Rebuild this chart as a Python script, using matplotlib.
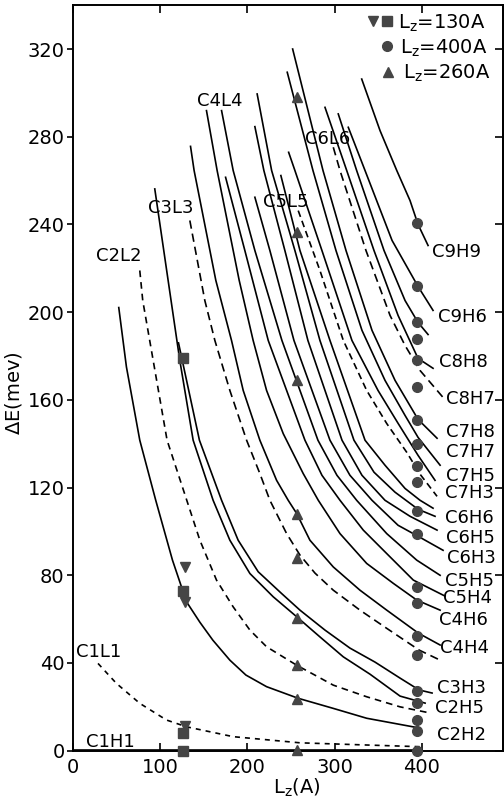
import matplotlib.pyplot as plt

# curves, E (meV) vs Lz (A)
c1l1_x = [28.7, 49.8, 76.6, 107.2, 130.2, 183.7, 260.3, 336.8, 400.0]
c1l1_y = [39.8, 30.7, 21.6, 14.0, 10.9, 6.4, 3.6, 2.6, 1.8]
c1h1_x = [0, 400]
c1h1_y = [0.3, 0.3]

c2h2_x = [52.5, 61.3, 76.6, 94.9, 114.1, 130.2, 145.5, 160.4, 179.9, 198.3, 222.0, 258.3, 298.5, 336.8, 398.0]
c2h2_y = [202.1, 175.0, 141.6, 114.2, 86.9, 67.9, 58.6, 50.4, 41.3, 34.5, 29.2, 23.9, 19.3, 14.8, 10.3]
c2l2_x = [76.6, 80.0, 107.9, 145.5, 164.6, 183.7, 202.9, 222.0, 256.5, 298.5, 336.8, 375.1, 409.5]
c2l2_y = [219.0, 205.3, 141.6, 96.0, 77.8, 65.6, 55.0, 47.4, 39.0, 29.9, 24.6, 20.0, 17.2]
c3l3_x = [93.8, 109.1, 122.5, 137.8, 160.7, 179.9, 202.9, 229.6, 256.5, 283.2, 310.0, 340.6, 375.1, 403.8]
c3l3_y = [256.2, 214.5, 178.0, 141.6, 114.2, 96.0, 80.8, 70.2, 61.1, 51.9, 42.8, 34.9, 24.9, 21.7]
c3h3_x = [121.0, 145.0, 170.4, 189.4, 212.4, 239.2, 260.3, 289.0, 317.6, 346.4, 375.1, 396.9, 411.8]
c3h3_y = [186.0, 141.6, 114.2, 96.0, 81.6, 71.7, 64.1, 55.0, 46.8, 40.4, 33.1, 27.7, 26.3]
c3l3d_x = [134.0, 151.2, 162.7, 179.9, 199.1, 214.3, 225.8, 245.0, 260.3, 277.5, 298.5, 329.1, 359.8, 396.9, 421.0]
c3l3d_y = [241.8, 205.3, 187.1, 164.3, 141.6, 126.4, 114.2, 99.0, 89.2, 81.0, 73.2, 64.1, 55.8, 45.9, 41.3]
c4h4_x = [134.8, 138.9, 163.8, 181.8, 195.2, 214.3, 233.5, 246.8, 256.5, 271.7, 298.5, 329.1, 359.8, 396.1, 421.0]
c4h4_y = [275.6, 264.6, 214.5, 187.1, 164.3, 141.6, 123.3, 114.2, 108.2, 96.0, 83.8, 73.2, 64.1, 53.6, 48.2]
c4h6_x = [153.1, 165.3, 190.6, 206.6, 222.0, 241.1, 264.0, 281.3, 306.2, 336.8, 367.4, 394.2, 421.0]
c4h6_y = [291.9, 264.6, 214.5, 187.1, 164.3, 144.6, 126.4, 114.2, 99.0, 85.4, 76.3, 68.7, 64.1]
c5h4_x = [175.0, 197.1, 223.9, 266.0, 285.5, 306.2, 332.9, 359.8, 390.3, 426.7]
c5h4_y = [261.5, 228.1, 187.1, 141.6, 125.6, 114.2, 100.6, 89.9, 77.8, 70.5]
c5h5_x = [170.4, 183.7, 208.6, 239.6, 280.9, 302.7, 325.3, 359.8, 394.2, 421.0]
c5h5_y = [291.9, 264.6, 228.1, 187.1, 141.6, 125.6, 114.2, 99.0, 86.9, 80.0]
c6h3_x = [208.6, 225.8, 253.4, 294.7, 317.6, 342.9, 372.8, 395.7, 424.4]
c6h3_y = [252.4, 228.1, 187.1, 141.6, 125.6, 114.2, 102.8, 97.8, 91.4]
c6h5_x = [208.6, 218.9, 243.0, 269.4, 308.5, 331.4, 357.8, 386.5, 417.5]
c6h5_y = [284.6, 264.6, 228.1, 187.1, 141.6, 125.6, 114.2, 106.9, 100.6]
c6h6_x = [211.2, 227.8, 254.5, 283.2, 322.2, 345.2, 369.3, 395.7, 415.2]
c6h6_y = [299.5, 264.6, 228.1, 187.1, 141.6, 127.0, 117.9, 110.1, 106.9]
c6x_x = [238.4, 260.3, 294.7, 334.9, 357.8, 380.8, 398.0, 412.9]
c6x_y = [262.3, 228.1, 187.1, 141.6, 130.2, 119.6, 114.2, 110.6]
c7h3_x = [258.3, 283.2, 310.0, 336.8, 359.8, 382.7, 398.0, 417.5]
c7h3_y = [246.3, 219.0, 187.1, 164.3, 149.2, 136.1, 126.1, 116.0]
c7h5_x = [247.3, 254.5, 285.5, 319.9, 349.8, 372.8, 395.7, 415.2]
c7h5_y = [272.9, 264.6, 228.1, 187.1, 164.3, 149.3, 134.7, 123.3]
c7h7_x = [245.7, 275.2, 301.6, 331.4, 357.8, 380.8, 395.7, 421.0]
c7h7_y = [309.4, 264.6, 228.1, 191.7, 168.9, 152.9, 142.9, 130.2]
c7h8_x = [251.9, 286.7, 313.1, 342.9, 369.3, 395.7, 417.5]
c7h8_y = [320.0, 264.6, 228.1, 191.7, 168.9, 151.1, 142.5]
c8h7_x = [298.5, 306.2, 336.0, 363.6, 380.8, 398.0, 424.4]
c8h7_y = [275.2, 264.6, 228.1, 198.5, 184.8, 173.4, 161.1]
c8h8_x = [289.0, 313.9, 345.2, 372.8, 395.7, 412.9]
c8h8_y = [293.4, 264.6, 228.1, 198.5, 178.9, 174.4]
c9x_x = [304.2, 325.3, 356.7, 380.8, 395.7, 407.2]
c9x_y = [290.4, 264.6, 228.1, 205.3, 195.3, 189.8]
c9h6_x = [315.7, 334.9, 365.9, 395.7, 412.9]
c9h6_y = [284.3, 264.6, 232.7, 211.7, 200.8]
c9h9_x = [331.1, 352.1, 371.3, 386.5, 395.7, 407.2]
c9h9_y = [306.3, 282.8, 264.6, 250.9, 240.0, 230.4]

# measured points
circ_y = [240.6, 211.9, 195.6, 187.6, 178, 165.9, 151, 139.7, 129.7, 122.5, 109.1,
          98.6, 74.6, 67.3, 52.1, 43.8, 27.4, 21.6, 14, 9.1, 0]
tri_y = [298.3, 236.5, 169.2, 108, 87.7, 60.6, 39, 23.6, 0.3]
sq_y = [179, 73, 8, 0]
itri_y = [83.7, 67.7, 11.2]

# curve labels (text, x, y)
right_labels = [("C9H9", 411.4, 227.3), ("C9H6", 419.0, 197.7), ("C8H8", 420.2, 177.2),
                ("C8H7", 427.9, 160.6), ("C7H8", 427.9, 145.3), ("C7H7", 427.9, 136.2),
                ("C7H5", 427.9, 125.4), ("C7H3", 426.7, 117.4), ("C6H6", 426.7, 105.9),
                ("C6H5", 427.9, 96.8), ("C6H3", 428.7, 87.7), ("C5H5", 426.7, 77.6),
                ("C5H4", 424.8, 69.6), ("C4H6", 420.2, 59.5), ("C4H4", 421.0, 46.7),
                ("C3H3", 417.2, 28.4), ("C2H5", 415.2, 19.3), ("C2H2", 417.2, 7.2)]
left_labels = [("C4L4", 141.7, 296.5), ("C6L6", 266.0, 279.0), ("C3L3", 86.1, 247.6),
               ("C5L5", 218.1, 250.1), ("C2L2", 26.9, 225.4), ("C1L1", 3.9, 45.1),
               ("C1H1", 15.4, 4.1)]

solid = '-'
dash = (0, (5, 3))
curves = [
    (c1l1_x, c1l1_y, (0, (3, 3))), (c1h1_x, c1h1_y, solid),
    (c2h2_x, c2h2_y, solid), (c2l2_x, c2l2_y, (0, (4, 3))),
    (c3l3_x, c3l3_y, solid), (c3h3_x, c3h3_y, solid), (c3l3d_x, c3l3d_y, dash),
    (c4h4_x, c4h4_y, solid), (c4h6_x, c4h6_y, solid),
    (c5h4_x, c5h4_y, solid), (c5h5_x, c5h5_y, solid),
    (c6h3_x, c6h3_y, solid), (c6h5_x, c6h5_y, solid), (c6h6_x, c6h6_y, solid),
    (c6x_x, c6x_y, solid), (c7h3_x, c7h3_y, (0, (4, 2.5))),
    (c7h5_x, c7h5_y, solid), (c7h7_x, c7h7_y, solid), (c7h8_x, c7h8_y, solid),
    (c8h7_x, c8h7_y, dash), (c8h8_x, c8h8_y, solid), (c9x_x, c9x_y, solid),
    (c9h6_x, c9h6_y, solid), (c9h9_x, c9h9_y, solid),
]

fig = plt.figure(figsize=(5.04, 8.06), dpi=100)
ax = fig.add_axes([0.1448, 0.0686, 0.853, 0.925])

for x, y, ls in curves:
    ax.plot(x, y, color='black', lw=1.2, ls=ls)

mc = '#454545'
ax.plot([395] * len(circ_y), circ_y, 'o', color=mc, ms=7, clip_on=False, zorder=5)
ax.plot([257] * len(tri_y), tri_y, '^', color=mc, ms=7.5, clip_on=False, zorder=5)
ax.plot([126] * len(sq_y), sq_y, 's', color=mc, ms=6.5, clip_on=False, zorder=5)
ax.plot([129] * len(itri_y), itri_y, 'v', color=mc, ms=7.5, clip_on=False, zorder=5)

fs = 13
for t, x, y in right_labels + left_labels:
    ax.text(x, y, t, fontsize=fs, ha='left', va='center', clip_on=False)

# legend drawn by hand as in the original
ax.plot([343.8], [332.9], 'v', color=mc, ms=7.5, clip_on=False)
ax.plot([359.8], [332.9], 's', color=mc, ms=6.5, clip_on=False)
ax.plot([359.8], [321.5], 'o', color=mc, ms=7, clip_on=False)
ax.plot([361.3], [309.7], '^', color=mc, ms=7.5, clip_on=False)
ax.text(373.1, 329.1, r'L$_\mathregular{z}$=130A', fontsize=14, va='baseline')
ax.text(375.1, 318.0, r'L$_\mathregular{z}$=400A', fontsize=14, va='baseline')
ax.text(378.5, 306.3, r'L$_\mathregular{z}$=260A', fontsize=14, va='baseline')

ax.set_xlim(0, 493)
ax.set_ylim(0, 340)
ax.set_xticks([0, 100, 200, 300, 400])
ax.set_yticks(range(0, 321, 40))
ax.tick_params(axis='both', labelsize=14, width=1.2)
ax.tick_params(axis='x', direction='in', length=6, top=True, pad=5)
ax.tick_params(axis='y', direction='out', length=4, pad=2)

# inward ticks on the right edge
sec = ax.secondary_yaxis('right')
sec.set_yticks(range(0, 321, 40))
sec.tick_params(direction='in', length=6, width=1.2, labelright=False)
sec.spines['right'].set_linewidth(1.4)
for s in ax.spines.values():
    s.set_linewidth(1.4)

ax.set_ylabel(r'$\Delta$E(mev)', fontsize=14)
ax.yaxis.set_label_coords(-0.115, 0.48)
ax.set_xlabel(r'L$_\mathregular{z}$(A)', fontsize=14)
ax.xaxis.set_label_coords(0.52, -0.035)

fig.savefig('out.png', dpi=100)
